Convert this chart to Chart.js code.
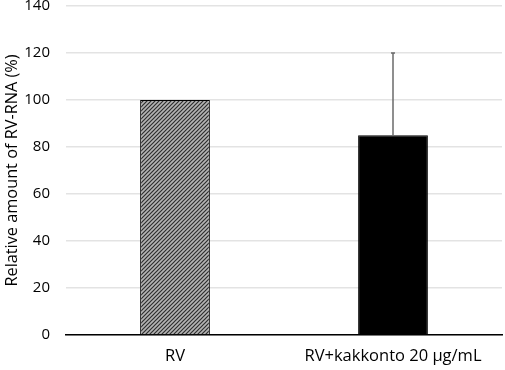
<!DOCTYPE html>
<html>
<head>
<meta charset="utf-8">
<script src="https://cdn.jsdelivr.net/npm/chart.js@4"></script>
<style>
  html, body { margin: 0; padding: 0; background: #fff; overflow: hidden; }
  canvas { display: block; }
</style>
</head>
<body>
<canvas id="chart" width="505" height="370"></canvas>
<script>
const categories = ['RV', 'RV+kakkonto 20 \u00b5g/mL'];
const values = [100, 85];
const errorsUp = [0, 35];
const yTicks = [0, 20, 40, 60, 80, 100, 120, 140];

// fine diagonal hatch for the control bar
function hatchPattern() {
    const c = document.createElement('canvas');
    c.width = 4;
    c.height = 4;
    const g = c.getContext('2d');
    g.fillStyle = '#b4b4b4';
    g.fillRect(0, 0, 4, 4);
    g.strokeStyle = '#2e2e2e';
    g.lineWidth = 1.2;
    g.beginPath();
    g.moveTo(-1, 5); g.lineTo(5, -1);
    g.moveTo(-1, 1); g.lineTo(1, -1);
    g.moveTo(3, 5); g.lineTo(5, 3);
    g.stroke();
    return g.createPattern(c, 'repeat');
}

const errorBars = {
    id: 'errorBars',
    afterDatasetsDraw(chart) {
        const ctx = chart.ctx;
        const meta = chart.getDatasetMeta(0);
        const y = chart.scales.y;
        ctx.save();
        ctx.strokeStyle = '#6b6b6b';
        ctx.lineWidth = 1.5;
        meta.data.forEach((bar, i) => {
            if (!errorsUp[i]) return;
            const top = y.getPixelForValue(values[i] + errorsUp[i]);
            const base = y.getPixelForValue(values[i]);
            ctx.beginPath();
            ctx.moveTo(bar.x, base);
            ctx.lineTo(bar.x, top);
            ctx.moveTo(bar.x - 2, top);
            ctx.lineTo(bar.x + 2, top);
            ctx.stroke();
        });
        ctx.restore();
    }
};

new Chart(document.getElementById('chart'), {
    type: 'bar',
    data: {
        labels: categories,
        datasets: [{
            data: values,
            backgroundColor: [hatchPattern(), '#000000'],
            borderColor: '#000000',
            borderWidth: 1,
            categoryPercentage: 1,
            barPercentage: 0.32
        }]
    },
    options: {
        responsive: false,
        animation: false,
        layout: { padding: { top: 0, right: 3, bottom: 0, left: 3 } },
        plugins: {
            legend: { display: false },
            tooltip: { enabled: false }
        },
        scales: {
            x: {
                afterFit: axis => { axis.height = 35; },
                grid: { display: false, drawTicks: false },
                border: { display: true, color: '#000000', width: 1.5 },
                ticks: {
                    color: '#000000',
                    padding: 11,
                    maxRotation: 0,
                    font: { family: 'Open Sans', size: 16.5 }
                }
            },
            y: {
                min: 0,
                max: 140,
                afterBuildTicks: axis => { axis.ticks = yTicks.map(v => ({ value: v })); },
                afterFit: axis => {
                    axis.width = 63;
                    axis.paddingTop = 6;
                    axis.paddingBottom = 0;
                },
                grid: { color: '#e3e3e3', lineWidth: 1.5, drawTicks: true, tickLength: 14, tickColor: 'rgba(0,0,0,0)' },
                border: { display: false },
                ticks: {
                    color: '#000000',
                    padding: 2,
                    font: { family: 'Open Sans', size: 15 }
                },
                title: {
                    display: true,
                    text: 'Relative amount of RV-RNA (%)',
                    color: '#000000',
                    padding: { top: 0, bottom: 2 },
                    font: { family: 'Open Sans', size: 16.3 }
                }
            }
        }
    },
    plugins: [errorBars]
});
</script>
</body>
</html>
